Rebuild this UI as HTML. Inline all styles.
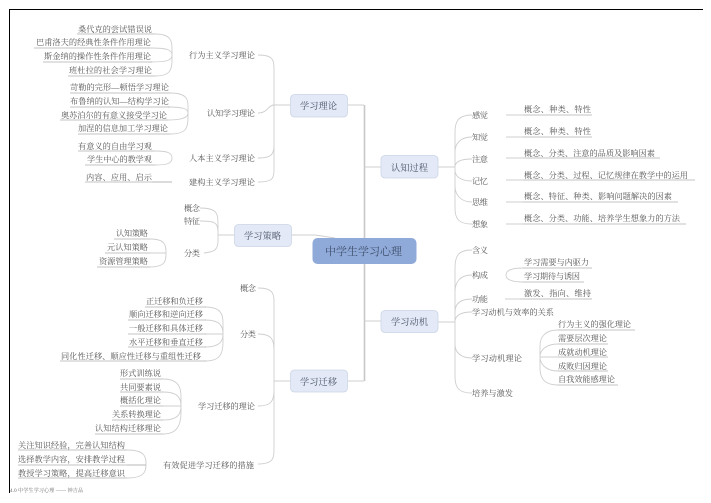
<!DOCTYPE html>
<html><head><meta charset="utf-8"><style>
html,body{margin:0;padding:0;background:#fff;width:711px;height:503px;overflow:hidden}
svg{display:block;filter:blur(.25px)}
text{font-family:"Liberation Serif","Noto Serif CJK SC",serif;font-size:8.2px;fill:#555}
.c{fill:none;stroke:#cfcfcf;stroke-width:.9}
.u{fill:none;stroke:#b0b0b0;stroke-width:.8}
.n{fill:#e3e9f6;stroke:#ccd5e6;stroke-width:.8}
.m{font-size:9.2px;fill:#4a5568}
</style></head><body>
<svg width="711" height="503" viewBox="0 0 711 503" xmlns="http://www.w3.org/2000/svg">
<path d="M9 9.5H703M9.5 9V493" stroke="#000" stroke-width="1" fill="none"/>
<!-- trunks -->
<path d="M364.5 105V381" stroke="#c8c8c8" stroke-width="1.6" fill="none"/>
<path class="c" d="M348 105H364M364 167H381M364 321H381M348 381H364M291 235L315 235L335 238"/>
<!-- learning theory trunk -->
<path class="c" d="M258 55C274 55 274 60 274 72V167C274 178 274 182 258 182M258 113C268 113 268 105 274 105H290M258 158C272 158 274 154 274 145"/>
<!-- transfer trunk -->
<path class="c" d="M258 288C274 288 274 294 274 305V447C274 458 274 464 258 464M258 334C272 334 274 340 274 350M258 406C272 406 274 400 274 390M274 381H290"/>
<!-- strategy -->
<path class="c" d="M200 208C218 208 218 214 218 226V241C218 250 214 252 204 253M200 221C214 221 218 222 218 232M218 235H234"/>
<!-- group hubs -->
<g class="c">
<path d="M155 34C172 34 172 42 172 50V60C172 70 170 76 155 76M150 48C168 48 172 50 172 55C172 60 168 62 150 62"/>
<path d="M170 93C188 93 188 100 188 108V118C188 128 186 134 170 134M168 107C184 107 188 109 188 113C188 117 184 120 168 120"/>
<path d="M155 151C168 151 172 153 172 158C172 163 168 165 155 165"/>
<path d="M152 182H172"/>
<path d="M150 239C166 239 166 246 166 253C166 260 166 267 150 267M150 253H166"/>
<path d="M205 307C223 307 223 316 223 326V342C223 354 220 361 205 361M205 320C220 320 223 326 223 334C223 341 220 347 205 347M205 334H223"/>
<path d="M163 379C181 379 181 390 181 400V412C181 424 178 434 163 434M163 392C178 392 181 398 181 406C181 414 178 420 163 420M163 406H181"/>
<path d="M127 450C146 450 146 458 146 464C146 470 146 478 127 478M127 465H146"/>
<!-- right cog -->
<path d="M438 167H455M472 115C458 115 455 122 455 132V208C455 218 458 224 472 224M472 137C460 137 455 144 455 152M472 159C460 159 455 162 455 167M472 181C460 181 455 176 455 170M472 202C460 202 455 194 455 186"/>
<path d="M506 115H523M506 137H523M506 158H523M506 180H523M506 202H523M506 224H523"/>
<!-- right motivation -->
<path d="M438 322H455M472 250C458 250 455 256 455 268V376C455 387 458 393 472 393M472 275C460 275 455 282 455 292M472 299C460 299 455 304 455 312M472 312C460 312 455 316 455 322M472 358C460 358 455 352 455 344"/>
<path d="M523 268C510 268 506 271 506 275C506 279 510 282 523 282M505 299H520"/>
<path d="M558 330C544 330 540 338 540 346V368C540 378 544 385 558 385M558 344C546 344 540 350 540 357C540 364 546 371 558 371M540 357H558"/>
</g>
<!-- underlines -->
<path class="u" d="M77 34H155M34 48H150M43 62H152M68 76H155M70 93H170M70 107H170M60 120H168M78 134H170M78 151H155M85 165H155M85 182H172M114 239H150M105 253H150M97 267H150M145 307H206M128 320H206M128 334H206M128 347H206M60 361H206M120 379H163M120 392H163M120 406H163M112 420H163M95 434H163M18 450H127M18 465H146M18 478H127"/>
<path class="u" d="M523 115H592M523 137H592M523 158H660M523 180H695M523 202H678M523 224H686M523 268H592M523 282H584M520 299H592M558 330H635M558 344H608M558 357H608M558 371H608M558 385H618"/>
<!-- nodes -->
<rect class="n" x="290.5" y="94.5" width="57" height="22.5" rx="4"/>
<rect class="n" x="234.5" y="224.5" width="57" height="22" rx="4"/>
<rect class="n" x="290.5" y="370" width="57" height="22" rx="4"/>
<rect class="n" x="381" y="155.5" width="57" height="22.5" rx="4"/>
<rect class="n" x="381" y="310.5" width="57" height="22" rx="4"/>
<rect x="312.5" y="238" width="104" height="26" rx="5" fill="#8faad9"/>
<text class="m" x="300" y="109" textLength="37">学习理论</text>
<text class="m" x="244" y="239" textLength="37">学习策略</text>
<text class="m" x="300" y="385" textLength="37">学习迁移</text>
<text class="m" x="391" y="171" textLength="37">认知过程</text>
<text class="m" x="391" y="325" textLength="37">学习动机</text>
<text x="325" y="255" textLength="77" style="font-size:11px;fill:#3f4f6b">中学生学习心理</text>
<!-- top-left -->
<text x="78" y="32" textLength="74">桑代克的尝试错误说</text>
<text x="36" y="45" textLength="115">巴甫洛夫的经典性条件作用理论</text>
<text x="44" y="59" textLength="107">斯金纳的操作性条件作用理论</text>
<text x="69" y="73" textLength="83">班杜拉的社会学习理论</text>
<text x="189" y="58" textLength="66">行为主义学习理论</text>
<text x="70" y="90" textLength="99">苛勒的完形—顿悟学习理论</text>
<text x="70" y="104" textLength="99">布鲁纳的认知—结构学习论</text>
<text x="61" y="118" textLength="106">奥苏泊尔的有意义接受学习论</text>
<text x="78" y="131" textLength="90">加涅的信息加工学习理论</text>
<text x="207" y="116" textLength="48">认知学习理论</text>
<text x="78" y="149" textLength="74">有意义的自由学习观</text>
<text x="87" y="162" textLength="65">学生中心的教学观</text>
<text x="189" y="161" textLength="66">人本主义学习理论</text>
<text x="86" y="180" textLength="66">内容、应用、启示</text>
<text x="189" y="185" textLength="66">建构主义学习理论</text>
<!-- strategy -->
<text x="184" y="211" textLength="16">概念</text>
<text x="184" y="224" textLength="16">特征</text>
<text x="184" y="256" textLength="16">分类</text>
<text x="116" y="236" textLength="32">认知策略</text>
<text x="107" y="250" textLength="41">元认知策略</text>
<text x="99" y="264" textLength="49">资源管理策略</text>
<!-- transfer -->
<text x="240" y="291" textLength="16">概念</text>
<text x="240" y="337" textLength="16">分类</text>
<text x="198" y="409" textLength="57">学习迁移的理论</text>
<text x="163" y="468" textLength="91">有效促进学习迁移的措施</text>
<text x="146" y="304" textLength="57">正迁移和负迁移</text>
<text x="129" y="317" textLength="74">顺向迁移和逆向迁移</text>
<text x="129" y="331" textLength="74">一般迁移和具体迁移</text>
<text x="129" y="345" textLength="74">水平迁移和垂直迁移</text>
<text x="61" y="359" textLength="140">同化性迁移、顺应性迁移与重组性迁移</text>
<text x="120" y="376" textLength="41">形式训练说</text>
<text x="120" y="390" textLength="41">共同要素说</text>
<text x="120" y="403" textLength="41">概括化理论</text>
<text x="112" y="417" textLength="49">关系转换理论</text>
<text x="95" y="431" textLength="66">认知结构迁移理论</text>
<text x="18" y="448" textLength="107">关注知识经验，完善认知结构</text>
<text x="18" y="462" textLength="107">选择教学内容，安排教学过程</text>
<text x="18" y="476" textLength="107">教授学习策略，提高迁移意识</text>
<!-- right top -->
<text x="472" y="118" textLength="16">感觉</text>
<text x="472" y="140" textLength="16">知觉</text>
<text x="472" y="162" textLength="16">注意</text>
<text x="472" y="184" textLength="16">记忆</text>
<text x="472" y="205" textLength="16">思维</text>
<text x="472" y="227" textLength="16">想象</text>
<text x="524" y="112" textLength="67">概念、种类、特性</text>
<text x="524" y="134" textLength="67">概念、种类、特性</text>
<text x="524" y="156" textLength="131">概念、分类、注意的品质及影响因素</text>
<text x="524" y="178" textLength="164">概念、分类、过程、记忆规律在教学中的运用</text>
<text x="524" y="199" textLength="148">概念、特征、种类、影响问题解决的因素</text>
<text x="524" y="221" textLength="156">概念、分类、功能、培养学生想象力的方法</text>
<!-- right bottom -->
<text x="472" y="253" textLength="16">含义</text>
<text x="472" y="278" textLength="16">构成</text>
<text x="472" y="302" textLength="16">功能</text>
<text x="472" y="315" textLength="82">学习动机与效率的关系</text>
<text x="472" y="361" textLength="50">学习动机理论</text>
<text x="472" y="396" textLength="41">培养与激发</text>
<text x="524" y="265" textLength="65">学习需要与内驱力</text>
<text x="524" y="279" textLength="56">学习期待与诱因</text>
<text x="524" y="296" textLength="67">激发、指向、维持</text>
<text x="558" y="327" textLength="73">行为主义的强化理论</text>
<text x="558" y="341" textLength="49">需要层次理论</text>
<text x="558" y="355" textLength="49">成就动机理论</text>
<text x="558" y="369" textLength="49">成败归因理论</text>
<text x="558" y="382" textLength="57">自我效能感理论</text>
<text x="10" y="492" textLength="73" style="font-size:5px;fill:#666">4.0 中学生学习心理 —— 钟吉品</text>
</svg>
</body></html>
